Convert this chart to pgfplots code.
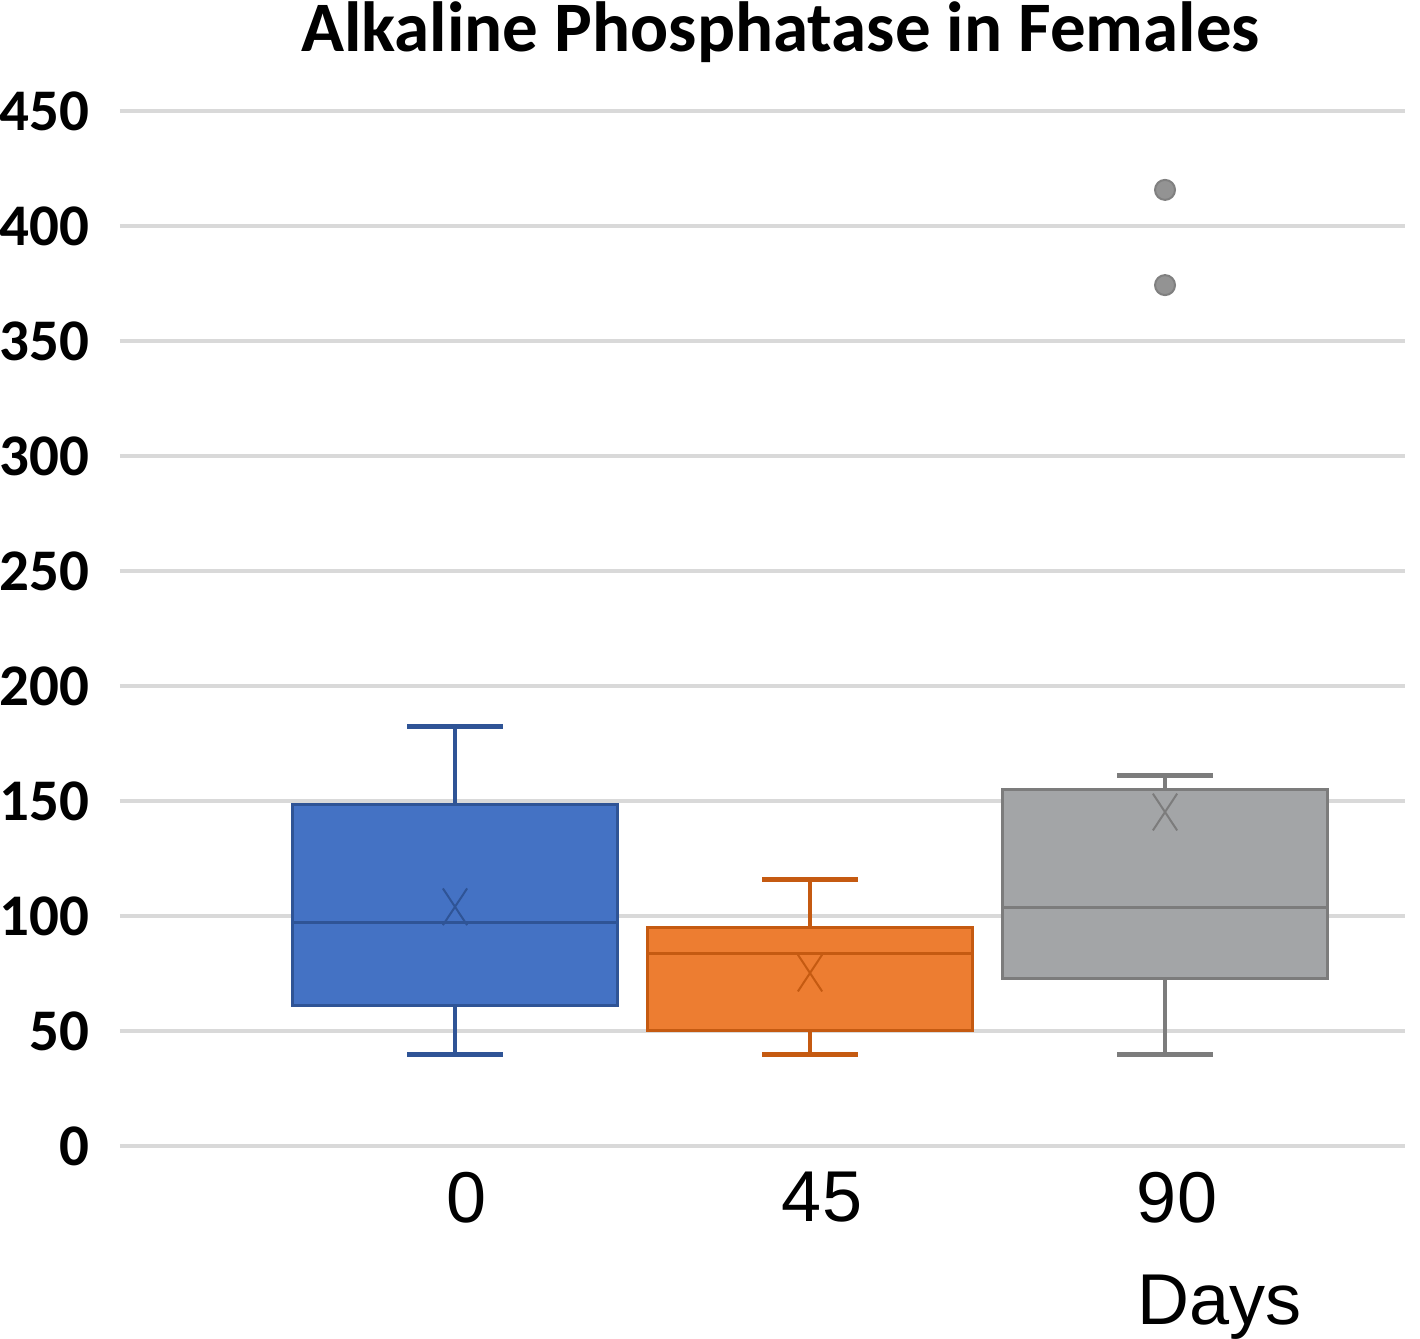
\documentclass[border=0pt]{standalone}
\usepackage{fontspec}
\usepackage{pgfplots}
\pgfplotsset{compat=1.18}
\newfontfamily\calb[BoldFont={Carlito Bold}]{Carlito}
\newfontfamily\ari{Liberation Sans}
\definecolor{bfill}{RGB}{68,114,196}
\definecolor{bedge}{RGB}{47,84,150}
\definecolor{ofill}{RGB}{237,125,49}
\definecolor{oedge}{RGB}{197,90,17}
\definecolor{gfill}{RGB}{163,165,167}
\definecolor{gedge}{RGB}{124,124,124}
\definecolor{gridc}{RGB}{217,217,217}
\definecolor{outc}{RGB}{128,128,128}
\begin{document}
\begin{tikzpicture}
\useasboundingbox (-60pt,-96.5pt) rectangle (650pt,573pt);
\begin{axis}[
  scale only axis,
  width=642.5pt, height=517.5pt,
  xmin=0.0563, xmax=3.676,
  ymin=0, ymax=450,
  ytick={0,50,...,450},
  xtick={1,2,3},
  xticklabels={0,45,90},
  ymajorgrids,
  major grid style={color=gridc, line width=2pt},
  axis line style={draw=none},
  major tick length=0pt,
  /pgf/number format/assume math mode=true,
  yticklabel style={font=\calb\bfseries\fontsize{29.5}{32}\selectfont, anchor=east, inner sep=0pt, xshift=-15pt},
  xticklabel style={font=\ari\fontsize{36}{40}\selectfont, anchor=north, inner sep=0pt, yshift=-13pt, xshift=6pt},
  clip=false,
  line join=miter,
]
% ---- Day 0 (blue): LQ 61.3, median 97, UQ 148.3, whiskers 39.6 / 182.2
\addplot[bedge, line width=2pt] coordinates {(1,148.3) (1,182.2)};
\addplot[bedge, line width=2pt] coordinates {(1,39.6) (1,61.3)};
\addplot[bedge, line width=2.5pt] coordinates {(0.865,182.2) (1.135,182.2)};
\addplot[bedge, line width=2.5pt] coordinates {(0.865,39.6) (1.135,39.6)};
\addplot[fill=bfill, draw=bedge, line width=1.5pt] coordinates {(0.542,61.3) (1.458,61.3) (1.458,148.3) (0.542,148.3)} -- cycle;
\addplot[bedge, line width=1.5pt] coordinates {(0.542,97) (1.458,97)};
% ---- Day 45 (orange): LQ 50.4, median 83.9, UQ 95.2, whiskers 39.6 / 116
\addplot[oedge, line width=2pt] coordinates {(2,95.2) (2,116)};
\addplot[oedge, line width=2pt] coordinates {(2,39.6) (2,50.4)};
\addplot[oedge, line width=2.5pt] coordinates {(1.865,116) (2.135,116)};
\addplot[oedge, line width=2.5pt] coordinates {(1.865,39.6) (2.135,39.6)};
\addplot[fill=ofill, draw=oedge, line width=1.5pt] coordinates {(1.542,50.4) (2.458,50.4) (2.458,95.2) (1.542,95.2)} -- cycle;
\addplot[oedge, line width=1.5pt] coordinates {(1.542,83.9) (2.458,83.9)};
% ---- Day 90 (grey): LQ 73, median 103.5, UQ 154.8, whiskers 39.6 / 160.9
\addplot[gedge, line width=2pt] coordinates {(3,154.8) (3,160.9)};
\addplot[gedge, line width=2pt] coordinates {(3,39.6) (3,73)};
\addplot[gedge, line width=2.5pt] coordinates {(2.865,160.9) (3.135,160.9)};
\addplot[gedge, line width=2.5pt] coordinates {(2.865,39.6) (3.135,39.6)};
\addplot[fill=gfill, draw=gedge, line width=1.5pt] coordinates {(2.542,73) (3.458,73) (3.458,154.8) (2.542,154.8)} -- cycle;
\addplot[gedge, line width=1.5pt] coordinates {(2.542,103.5) (3.458,103.5)};
% ---- outliers
\addplot[only marks, mark=*, mark size=5pt, mark options={fill=outc!85, draw=outc, line width=1pt}] coordinates {(3,415.7) (3,374.3)};
% ---- means
\addplot[only marks, mark=x, mark size=13pt, mark options={xscale=0.66, line width=1pt, draw=bedge}] coordinates {(1,104)};
\addplot[only marks, mark=x, mark size=13pt, mark options={xscale=0.66, line width=1pt, draw=oedge}] coordinates {(2,75.2)};
\addplot[only marks, mark=x, mark size=13pt, mark options={xscale=0.66, line width=1pt, draw=gedge}] coordinates {(3,145.2)};
\node[font=\calb\bfseries\fontsize{35.5}{40}\selectfont, anchor=base, inner sep=0pt]
  at ([yshift=29.5pt]rel axis cs:0.514,1) {Alkaline Phosphatase in Females};
\node[font=\ari\fontsize{36}{40}\selectfont, anchor=north, inner sep=0pt]
  at ([yshift=-64.5pt]rel axis cs:0.856,0) {Days};
\end{axis}
\end{tikzpicture}
\end{document}
